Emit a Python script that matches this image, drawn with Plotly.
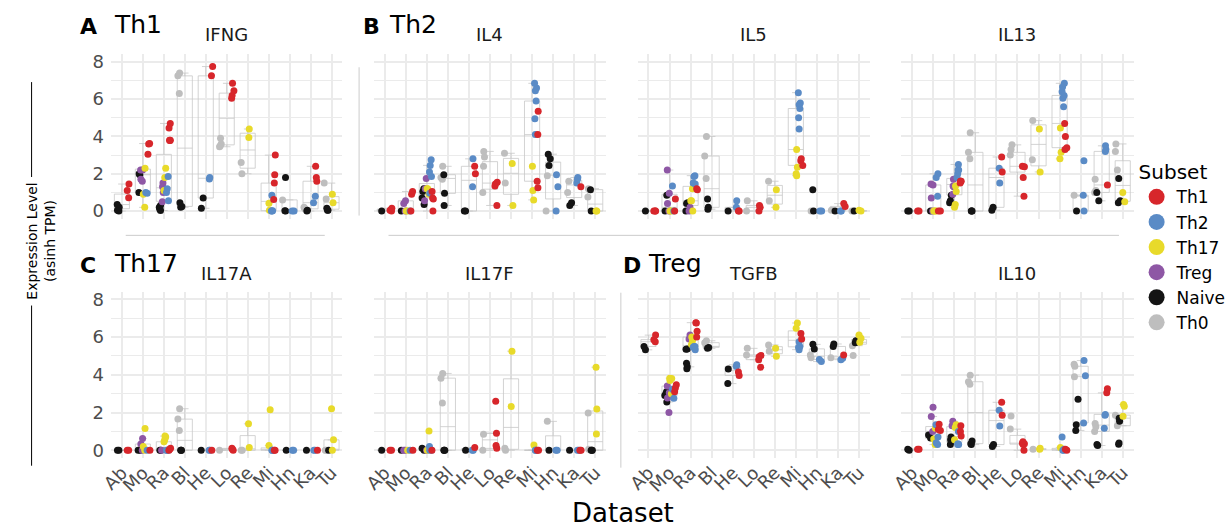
import plotly.graph_objects as go

DATASETS = ["Ab", "Mo", "Ra", "Bl", "He", "Lo", "Re", "Mi", "Hn", "Ka", "Tu"]
SUBSETS = ["Th1", "Th2", "Th17", "Treg", "Naive", "Th0"]
COLORS = {"Th1": "#D7262B", "Th2": "#5A8BC6", "Th17": "#E8DA2A",
          "Treg": "#8E57A5", "Naive": "#141414", "Th0": "#BEBEBE"}

IFNG = {
    "Ab": {"Th1": [1.45, 1.1, 0.72], "Naive": [0.35, 0.2, 0.05, 0.0]},
    "Mo": {"Th1": [3.6, 3.62, 3.05], "Th17": [2.3, 0.9, 0.2], "Treg": [2.2, 2.2, 1.7, 1.6],
           "Naive": [2.0, 1.95, 1.0], "Th2": [0.95, 1.0]},
    "Ra": {"Th1": [4.7, 4.45, 3.8, 3.78, 3.8], "Th17": [2.3, 1.8, 1.1], "Th2": [1.85, 1.2, 1.0, 0.55],
           "Treg": [1.5, 1.3, 1.0, 0.5], "Naive": [0.3, 0.2, 0.1, 0.03]},
    "Bl": {"Th0": [7.4, 7.25, 6.3], "Naive": [0.45, 0.25, 0.2]},
    "He": {"Th1": [7.75, 7.25], "Th2": [1.8, 1.72], "Naive": [0.7, 0.15]},
    "Lo": {"Th1": [6.85, 6.45, 6.2, 6.05], "Th0": [3.9, 3.6, 3.5, 3.45]},
    "Re": {"Th17": [4.4, 3.95], "Th0": [2.6, 2.0]},
    "Mi": {"Th1": [3.0, 1.95, 1.5, 0.62], "Th17": [0.42, 0.05], "Th2": [0.85, 0.02, 0.0, 0.0]},
    "Hn": {"Naive": [1.8, 0.02, 0.0], "Th0": [0.6], "Th2": [0.0, 0.0]},
    "Ka": {"Th1": [2.4, 1.8, 1.6], "Th2": [0.8, 0.45], "Th0": [0.2, 0.12], "Naive": [0.05, 0.0]},
    "Tu": {"Th0": [1.5, 0.65], "Th17": [0.9, 0.45], "Naive": [0.15, 0.05, 0.05]},
}

IL4 = {
    "Ab": {"Th1": [0.15, 0.05, 0.0], "Naive": [0.0]},
    "Mo": {"Th1": [1.05, 0.9, 0.0], "Treg": [0.55, 0.4, 0.0], "Th2": [0.0], "Th17": [0.0, 0.0], "Naive": [0.0]},
    "Ra": {"Th2": [2.75, 2.45, 2.1, 1.85, 0.95], "Treg": [1.75, 1.2, 0.55], "Naive": [1.2, 1.05, 0.7, 0.35],
           "Th17": [1.2, 1.2, 0.9], "Th1": [1.05, 0.65, 0.7, 0.0]},
    "Bl": {"Th0": [2.4, 1.8, 1.7], "Naive": [1.95, 0.95, 0.3]},
    "He": {"Th2": [2.8, 1.3], "Th1": [2.4, 2.0], "Naive": [0.0, 0.0]},
    "Lo": {"Th0": [3.2, 2.9, 2.4, 1.0], "Th1": [1.55, 1.45, 1.35, 0.3]},
    "Re": {"Th0": [3.1, 1.5], "Th17": [2.55, 0.3]},
    "Mi": {"Th2": [6.85, 6.6, 6.45, 5.9, 4.95, 4.1], "Th1": [5.35, 4.1, 1.6, 1.25], "Th17": [2.4, 1.1, 0.6]},
    "Hn": {"Naive": [3.05, 2.8, 2.45], "Th2": [1.95, 1.3, 0.0], "Th0": [1.9, 0.0]},
    "Ka": {"Th0": [1.6, 1.0], "Th2": [1.8, 1.7, 1.5], "Th1": [1.3], "Naive": [0.45, 0.3]},
    "Tu": {"Th0": [1.2, 0.75], "Naive": [1.15, 0.0], "Th17": [0.0, 0.0]},
}

IL5 = {
    "Ab": {"Naive": [0.0], "Th1": [0.0, 0.0, 0.0]},
    "Mo": {"Treg": [2.2, 0.95, 0.4, 0.0], "Th2": [1.35, 0.0], "Naive": [0.85, 0.0], "Th1": [0.65, 0.0],
           "Th17": [0.0, 0.0]},
    "Ra": {"Th2": [1.9, 1.85, 1.5, 1.45], "Th1": [1.2, 1.15], "Th17": [1.2, 0.55, 0.55, 0.0],
           "Naive": [0.45, 0.4, 0.0], "Treg": [0.2, 0.0]},
    "Bl": {"Th0": [4.0, 2.95, 1.75], "Naive": [0.65, 0.2, 0.1]},
    "He": {"Th2": [0.55, 0.2], "Th1": [0.0, 0.0], "Naive": [0.0]},
    "Lo": {"Th0": [0.55, 0.0], "Th1": [0.3, 0.2, 0.0]},
    "Re": {"Th0": [1.6, 0.55], "Th17": [1.15, 0.2]},
    "Mi": {"Th2": [6.35, 5.8, 5.7, 5.5, 5.0, 4.4], "Th17": [3.3, 2.35, 2.0, 1.9], "Th1": [2.8, 2.7, 2.45]},
    "Hn": {"Naive": [1.15, 0.0], "Th0": [0.0], "Th2": [0.0, 0.0]},
    "Ka": {"Th1": [0.4, 0.25], "Naive": [0.0], "Th2": [0.0, 0.0], "Th0": [0.05]},
    "Tu": {"Th17": [0.05, 0.0], "Th0": [0.0], "Naive": [0.0]},
}

IL13 = {
    "Ab": {"Naive": [0.0, 0.0], "Th1": [0.0, 0.0]},
    "Mo": {"Th2": [2.0, 1.8, 0.8], "Treg": [1.45, 1.4, 0.7, 0.0], "Th17": [0.0, 0.0, 0.0],
           "Naive": [0.0], "Th1": [0.0, 0.0]},
    "Ra": {"Th2": [2.5, 2.2, 2.2, 2.0, 1.8], "Th1": [1.6, 1.6, 1.6, 1.5], "Treg": [1.7, 1.35, 1.3, 0.9],
           "Th17": [1.35, 1.05, 0.35, 0.2], "Naive": [0.85, 0.55, 0.45]},
    "Bl": {"Th0": [4.2, 3.15, 2.8], "Naive": [0.0, 0.0, 0.0]},
    "He": {"Th1": [2.9, 2.1], "Th2": [2.3, 1.5], "Naive": [0.2, 0.05]},
    "Lo": {"Th0": [3.55, 3.3, 3.0], "Th1": [2.4, 2.38, 1.8, 0.8]},
    "Re": {"Th0": [4.85, 2.75], "Th17": [4.4, 2.1]},
    "Mi": {"Th2": [6.85, 6.65, 6.4, 6.2, 6.05, 5.6], "Th1": [4.7, 4.0, 3.4, 3.3], "Th17": [4.45, 3.15, 2.8]},
    "Hn": {"Th2": [2.7, 0.85, 0.0], "Naive": [0.0], "Th0": [0.85]},
    "Ka": {"Th2": [3.5, 3.3, 3.2], "Th0": [1.7, 1.1, 1.0], "Th1": [1.4], "Naive": [1.0, 0.55]},
    "Tu": {"Th0": [3.6, 3.2, 2.2], "Th17": [1.0, 0.5], "Naive": [1.75, 0.45, 0.55]},
}

IL17A = {
    "Ab": {"Naive": [0.0, 0.0], "Th1": [0.0, 0.0]},
    "Mo": {"Th17": [1.15, 0.2, 0.0], "Treg": [0.62, 0.33, 0.0], "Naive": [0.0, 0.0], "Th1": [0.0], "Th2": [0.0]},
    "Ra": {"Th17": [0.75, 0.7, 0.55, 0.45], "Th1": [0.1, 0.05, 0.0], "Treg": [0.0], "Th2": [0.0, 0.0, 0.0],
           "Naive": [0.0, 0.0]},
    "Bl": {"Th0": [2.2, 1.65, 1.05], "Naive": [0.0, 0.0, 0.0]},
    "He": {"Th1": [0.0], "Th2": [0.0, 0.0], "Naive": [0.0]},
    "Lo": {"Th1": [0.1, 0.05, 0.0], "Th0": [0.0]},
    "Re": {"Th17": [1.4, 0.15], "Th0": [0.0, 0.0]},
    "Mi": {"Th17": [2.15, 0.25], "Th1": [0.0, 0.0], "Th2": [0.0, 0.0, 0.0]},
    "Hn": {"Naive": [0.0], "Th2": [0.0, 0.0]},
    "Ka": {"Naive": [0.0], "Th1": [0.0], "Th2": [0.0, 0.0]},
    "Tu": {"Th17": [2.2, 0.55, 0.0], "Th0": [0.0, 0.0], "Naive": [0.0]},
}

IL17F = {
    "Ab": {"Naive": [0.0], "Th1": [0.0, 0.0]},
    "Mo": {"Th1": [0.0], "Th17": [0.0], "Treg": [0.0, 0.0], "Th2": [0.0], "Naive": [0.0]},
    "Ra": {"Th17": [1.02, 0.0], "Th2": [0.2, 0.0, 0.0], "Naive": [0.1, 0.0], "Th1": [0.0], "Treg": [0.0]},
    "Bl": {"Th0": [4.07, 3.82, 2.5], "Naive": [0.0, 0.0, 0.0]},
    "He": {"Th1": [0.15], "Th2": [0.0, 0.0], "Naive": [0.0]},
    "Lo": {"Th1": [2.6, 0.9, 0.25, 0.1], "Th0": [0.85, 0.0]},
    "Re": {"Th17": [5.25, 2.32], "Th0": [0.1, 0.0]},
    "Mi": {"Th17": [0.28], "Th1": [0.0, 0.0], "Th2": [0.0, 0.0, 0.0]},
    "Hn": {"Th0": [1.53], "Naive": [0.0], "Th2": [0.0, 0.0]},
    "Ka": {"Naive": [0.0], "Th1": [0.0, 0.0], "Th2": [0.0, 0.0]},
    "Tu": {"Th17": [4.4, 2.18, 0.86], "Th0": [1.98, 0.05], "Naive": [0.0, 0.0, 0.0]},
}

TGFB = {
    "Ab": {"Th1": [6.1, 5.86, 5.75], "Naive": [5.5, 5.32]},
    "Mo": {"Th17": [3.8, 3.82, 3.7, 3.0], "Th1": [3.47, 3.3, 3.1], "Treg": [3.4, 3.04, 2.77, 2.0],
           "Th2": [3.23, 2.75], "Naive": [3.1, 2.95, 2.56, 2.9]},
    "Ra": {"Th1": [6.74, 6.76, 6.3, 6.0], "Treg": [6.1, 5.9], "Th17": [6.0, 5.8, 5.6],
           "Th2": [5.46, 5.5, 5.5, 5.32], "Naive": [5.37, 5.35, 4.42, 4.32, 4.61]},
    "Bl": {"Th0": [5.8, 5.7, 5.5], "Naive": [5.4, 5.45]},
    "He": {"Th2": [4.53, 4.44], "Naive": [4.3, 3.53], "Th1": [4.14, 3.96]},
    "Lo": {"Th0": [5.4, 5.05], "Th1": [5.02, 4.95, 4.8, 4.4]},
    "Re": {"Th0": [5.58, 5.25], "Th17": [5.4, 4.98]},
    "Mi": {"Th17": [6.74, 6.46], "Th1": [6.19, 5.9], "Th2": [5.75, 5.5, 5.46, 5.33]},
    "Hn": {"Naive": [5.61, 5.37], "Th0": [5.05, 4.9], "Th2": [4.81, 4.7]},
    "Ka": {"Naive": [5.63, 5.5], "Th1": [5.05], "Th2": [4.88, 4.8], "Th0": [4.9]},
    "Tu": {"Th17": [6.1, 5.93, 5.72], "Naive": [5.8, 5.7], "Th0": [5.54, 5.02]},
}

IL10 = {
    "Ab": {"Naive": [0.0, 0.05], "Th1": [0.05, 0.05]},
    "Mo": {"Treg": [2.28, 1.79, 1.0], "Th1": [1.38, 1.1, 1.05], "Th2": [1.35, 0.7, 0.4, 0.3],
           "Th17": [1.16, 0.6, 0.3], "Naive": [0.81, 0.65]},
    "Ra": {"Treg": [1.53, 1.3], "Th1": [1.3, 1.0, 0.75], "Th17": [1.35, 1.2, 0.55],
           "Th2": [0.3, 0.3, 0.35, 1.0], "Naive": [0.7, 0.5, 0.3, 0.55]},
    "Bl": {"Th0": [3.98, 3.63, 3.5], "Naive": [0.49, 0.35, 0.3]},
    "He": {"Th1": [2.54, 1.86], "Th2": [2.12, 1.28], "Naive": [0.3, 0.2]},
    "Lo": {"Th0": [1.81, 1.12], "Th1": [0.45, 0.37, 0.35, 0.3, 0.0]},
    "Re": {"Th17": [0.1, 0.05], "Th0": [0.05]},
    "Mi": {"Th2": [0.7, 0.05, 0.0, 0.0], "Th1": [0.05, 0.0], "Th17": [0.15]},
    "Hn": {"Th2": [4.75, 3.95, 1.45], "Th0": [4.55, 4.45, 3.9], "Naive": [2.7, 1.35, 1.05]},
    "Ka": {"Th1": [3.26, 3.04], "Th2": [1.9, 1.86, 1.16], "Th0": [1.42, 1.25, 1.0], "Naive": [0.3, 0.25]},
    "Tu": {"Th17": [2.42, 2.33, 1.8], "Th0": [1.86, 1.3], "Naive": [1.54, 1.7, 0.32, 0.38]},
}

GENES = [("IFNG", IFNG), ("IL4", IL4), ("IL5", IL5), ("IL13", IL13),
         ("IL17A", IL17A), ("IL17F", IL17F), ("TGFB", TGFB), ("IL10", IL10)]
Y_TICKS = [0, 2, 4, 6, 8]

W, H = 1231, 531
COL_PX = [(102, 338), (370, 607), (639, 876), (908, 1145)]
ROW_PX = [(52, 218), (292, 460)]
DRAW_ORDER = ["Th0", "Naive", "Treg", "Th17", "Th2", "Th1"]


def px_x(v):
    return v / W


def px_y(v):
    return 1 - v / H


fig = go.Figure()
layout = {}
annotations = []

for k, (gene, data) in enumerate(GENES):
    n = k + 1
    row, col = divmod(k, 4)
    xname = "x" if n == 1 else f"x{n}"
    yname = "y" if n == 1 else f"y{n}"

    all_x, all_y = [], []
    for ds in DATASETS:
        for s in SUBSETS:
            vals = data.get(ds, {}).get(s, [])
            all_x += [ds] * len(vals)
            all_y += vals
    fig.add_trace(go.Box(
        x=all_x, y=all_y, xaxis=xname, yaxis=yname,
        boxpoints="outliers", marker=dict(opacity=0, size=1),
        line=dict(color="#c8c8c8", width=0.8), fillcolor="rgba(0,0,0,0)",
        width=0.72, alignmentgroup=f"sum{n}", offsetgroup="sum",
        quartilemethod="inclusive", showlegend=False, hoverinfo="skip"))

    for s in DRAW_ORDER:
        xs, ys = [], []
        for ds in DATASETS:
            vals = data.get(ds, {}).get(s, [])
            xs += [ds] * len(vals)
            ys += vals
        fig.add_trace(go.Box(
            x=xs, y=ys, xaxis=xname, yaxis=yname, name=s,
            boxpoints="all", jitter=1, pointpos=0,
            marker=dict(color=COLORS[s], size=7, line=dict(width=0)),
            line=dict(width=0, color="rgba(0,0,0,0)"), fillcolor="rgba(0,0,0,0)",
            alignmentgroup=f"pts{n}", offsetgroup=s,
            showlegend=False, hoveron="points"))

    x0, x1 = COL_PX[col]
    y0, y1 = ROW_PX[row]
    layout["xaxis" if n == 1 else f"xaxis{n}"] = dict(
        domain=[px_x(x0), px_x(x1)], anchor=yname, type="category",
        categoryorder="array", categoryarray=DATASETS, range=[-0.52, 10.52],
        tickmode="array", tickvals=DATASETS, ticktext=DATASETS,
        showgrid=True, gridcolor="#ebebeb", gridwidth=2, zeroline=False,
        showline=False, ticks="", showticklabels=(row == 1), tickangle=-45,
        tickfont=dict(size=18, color="#4d4d4d"))
    layout["yaxis" if n == 1 else f"yaxis{n}"] = dict(
        domain=[px_y(y1), px_y(y0)], anchor=xname, range=[-0.4, 8.4],
        tickvals=Y_TICKS, showgrid=True, gridcolor="#ebebeb", gridwidth=2,
        minor=dict(tickvals=[1, 3, 5, 7], showgrid=True, gridcolor="#ebebeb", gridwidth=1),
        zeroline=False, showline=False, ticks="", showticklabels=(col == 0),
        tickfont=dict(size=18, color="#4d4d4d"), ticklabelstandoff=6)

    annotations.append(dict(
        text=gene, x=px_x((x0 + x1) / 2), y=px_y(32 if row == 0 else 274),
        xref="paper", yref="paper", showarrow=False, xanchor="center", yanchor="middle",
        font=dict(size=18, color="#1a1a1a")))

for s in SUBSETS:
    fig.add_trace(go.Scatter(x=[None], y=[None], mode="markers", name=s,
                             marker=dict(size=16, color=COLORS[s]), xaxis="x", yaxis="y"))

PANEL_LABELS = [("A", "Th1", 68, 103, 24), ("B", "Th2", 357, 383, 24),
                ("C", "Th17", 68, 103, 265), ("D", "Treg", 622, 648, 265)]
for letter, name, lx, nx, py in PANEL_LABELS:
    annotations.append(dict(text=f"<b>{letter}</b>", x=px_x(lx), y=px_y(py), xref="paper",
                            yref="paper", showarrow=False, xanchor="left", yanchor="middle",
                            font=dict(size=22, color="black")))
    annotations.append(dict(text=name, x=px_x(nx), y=px_y(py - 2), xref="paper",
                            yref="paper", showarrow=False, xanchor="left", yanchor="middle",
                            font=dict(size=25, color="black")))

annotations.append(dict(text="Expression Level<br>(asinh TPM)", x=px_x(31), y=px_y(241),
                        xref="paper", yref="paper", showarrow=False, textangle=-90,
                        xanchor="center", yanchor="middle", font=dict(size=14, color="black")))
annotations.append(dict(text="Dataset", x=px_x(624), y=px_y(516), xref="paper", yref="paper",
                        showarrow=False, xanchor="center", yanchor="middle",
                        font=dict(size=26, color="black")))

shapes = [
    dict(type="line", xref="paper", yref="paper", x0=px_x(21), x1=px_x(21), y0=px_y(80), y1=px_y(176),
         line=dict(color="black", width=1)),
    dict(type="line", xref="paper", yref="paper", x0=px_x(21), x1=px_x(21), y0=px_y(306), y1=px_y(468),
         line=dict(color="black", width=1)),
    dict(type="line", xref="paper", yref="paper", x0=px_x(355), x1=px_x(355), y0=px_y(65), y1=px_y(215),
         line=dict(color="#cccccc", width=1)),
    dict(type="line", xref="paper", yref="paper", x0=px_x(117), x1=px_x(320), y0=px_y(235), y1=px_y(235),
         line=dict(color="#cccccc", width=1)),
    dict(type="line", xref="paper", yref="paper", x0=px_x(385), x1=px_x(1130), y0=px_y(235), y1=px_y(235),
         line=dict(color="#cccccc", width=1)),
    dict(type="line", xref="paper", yref="paper", x0=px_x(622), x1=px_x(622), y0=px_y(293), y1=px_y(470),
         line=dict(color="#cccccc", width=1)),
]

fig.update_layout(
    width=W, height=H, margin=dict(l=0, r=0, t=0, b=0),
    paper_bgcolor="white", plot_bgcolor="white",
    font=dict(family="DejaVu Sans", color="black"),
    boxmode="group", boxgap=0.3, boxgroupgap=0.0,
    annotations=annotations, shapes=shapes,
    legend=dict(title=dict(text="Subset", font=dict(size=20)), font=dict(size=17),
                x=px_x(1148), y=px_y(152), xanchor="left", yanchor="top",
                itemsizing="trace", bgcolor="rgba(0,0,0,0)", tracegroupgap=0),
    showlegend=True,
    **layout,
)

fig.write_html("out.html")
